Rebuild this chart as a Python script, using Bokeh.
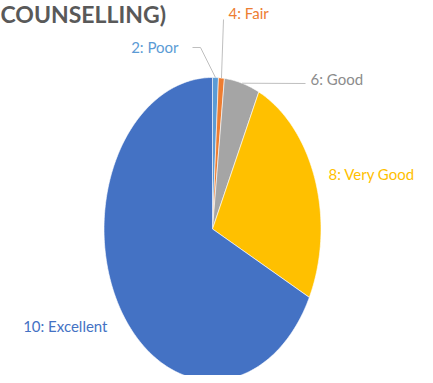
import numpy as np
from bokeh.plotting import figure
from bokeh.models import Range1d
from bokeh.core.properties import value
from bokeh.embed import file_html
from bokeh.resources import INLINE

# ---- data ----
categories = ["2: Poor", "4: Fair", "6: Good", "8: Very Good", "10: Excellent"]
counts = [1, 1, 6, 29, 77]
colors = ["#5B9BD5", "#ED7D31", "#A5A5A5", "#FFC000", "#4472C4"]
label_colors = ["#5B9BD5", "#ED7D31", "#8C8C8C", "#FFC000", "#4472C4"]
title_text = "COUNSELLING)"

# ---- layout constants (picture pixel coordinates) ----
W, H = 425, 375
CX, CY = 212, 228.5          # pie centre
RX, RY = 108.5, 151.5        # pie semi-axes (stretched pie)
# label anchors: (x, y, align)
label_pos = [(178, 46, "right"), (228, 12, "left"), (310, 78, "left"),
             (328, 173, "left"), (107, 325, "right")]
# leader elbow points (None = no leader line)
leader_elbow = [(200, 47), (223, 19), (305, 83), None, None]

p = figure(width=W, height=H, output_backend="svg", toolbar_location=None,
           x_range=Range1d(0, W), y_range=Range1d(H, 0),
           min_border=0, outline_line_color=None)
p.axis.visible = False
p.grid.visible = False
p.background_fill_color = "white"

vals = np.array(counts, dtype=float)
frac = vals / vals.sum()
ends = np.cumsum(frac) * 2 * np.pi
starts = ends - frac * 2 * np.pi

xs, ys = [], []
for s, e in zip(starts, ends):
    t = np.linspace(s, e, max(int((e - s) / (2 * np.pi) * 360), 2) + 1)
    xs.append(list(np.concatenate([[CX], CX + RX * np.sin(t), [CX]])))
    ys.append(list(np.concatenate([[CY], CY - RY * np.cos(t), [CY]])))

p.patches(xs=xs, ys=ys, fill_color=colors, line_color="white", line_width=0.6)

# leader lines from slice mid-angle on the rim to the label elbow
for i, elbow in enumerate(leader_elbow):
    if elbow is None:
        continue
    mid = (starts[i] + ends[i]) / 2
    rx = CX + RX * np.sin(mid)
    ry = CY - RY * np.cos(mid)
    lx = [rx, elbow[0]]
    ly = [ry, elbow[1]]
    if i == 0:
        lx.append(label_pos[i][0] + 14)
        ly.append(elbow[1])
    p.line(lx, ly, line_color="#BFBFBF", line_width=1)

for i, cat in enumerate(categories):
    x, y, al = label_pos[i]
    p.text(x=[x], y=[y], text=[cat], text_align=al, text_baseline="middle",
           text_font=value("Lato"), text_font_size="15px",
           text_color=label_colors[i])

p.text(x=[0], y=[-1], text=[title_text], text_align="left", text_baseline="top",
       text_font=value("Lato"), text_font_style="bold", text_font_size="23px",
       text_color="#595959")

open("out.html", "w").write(file_html(p, INLINE))
